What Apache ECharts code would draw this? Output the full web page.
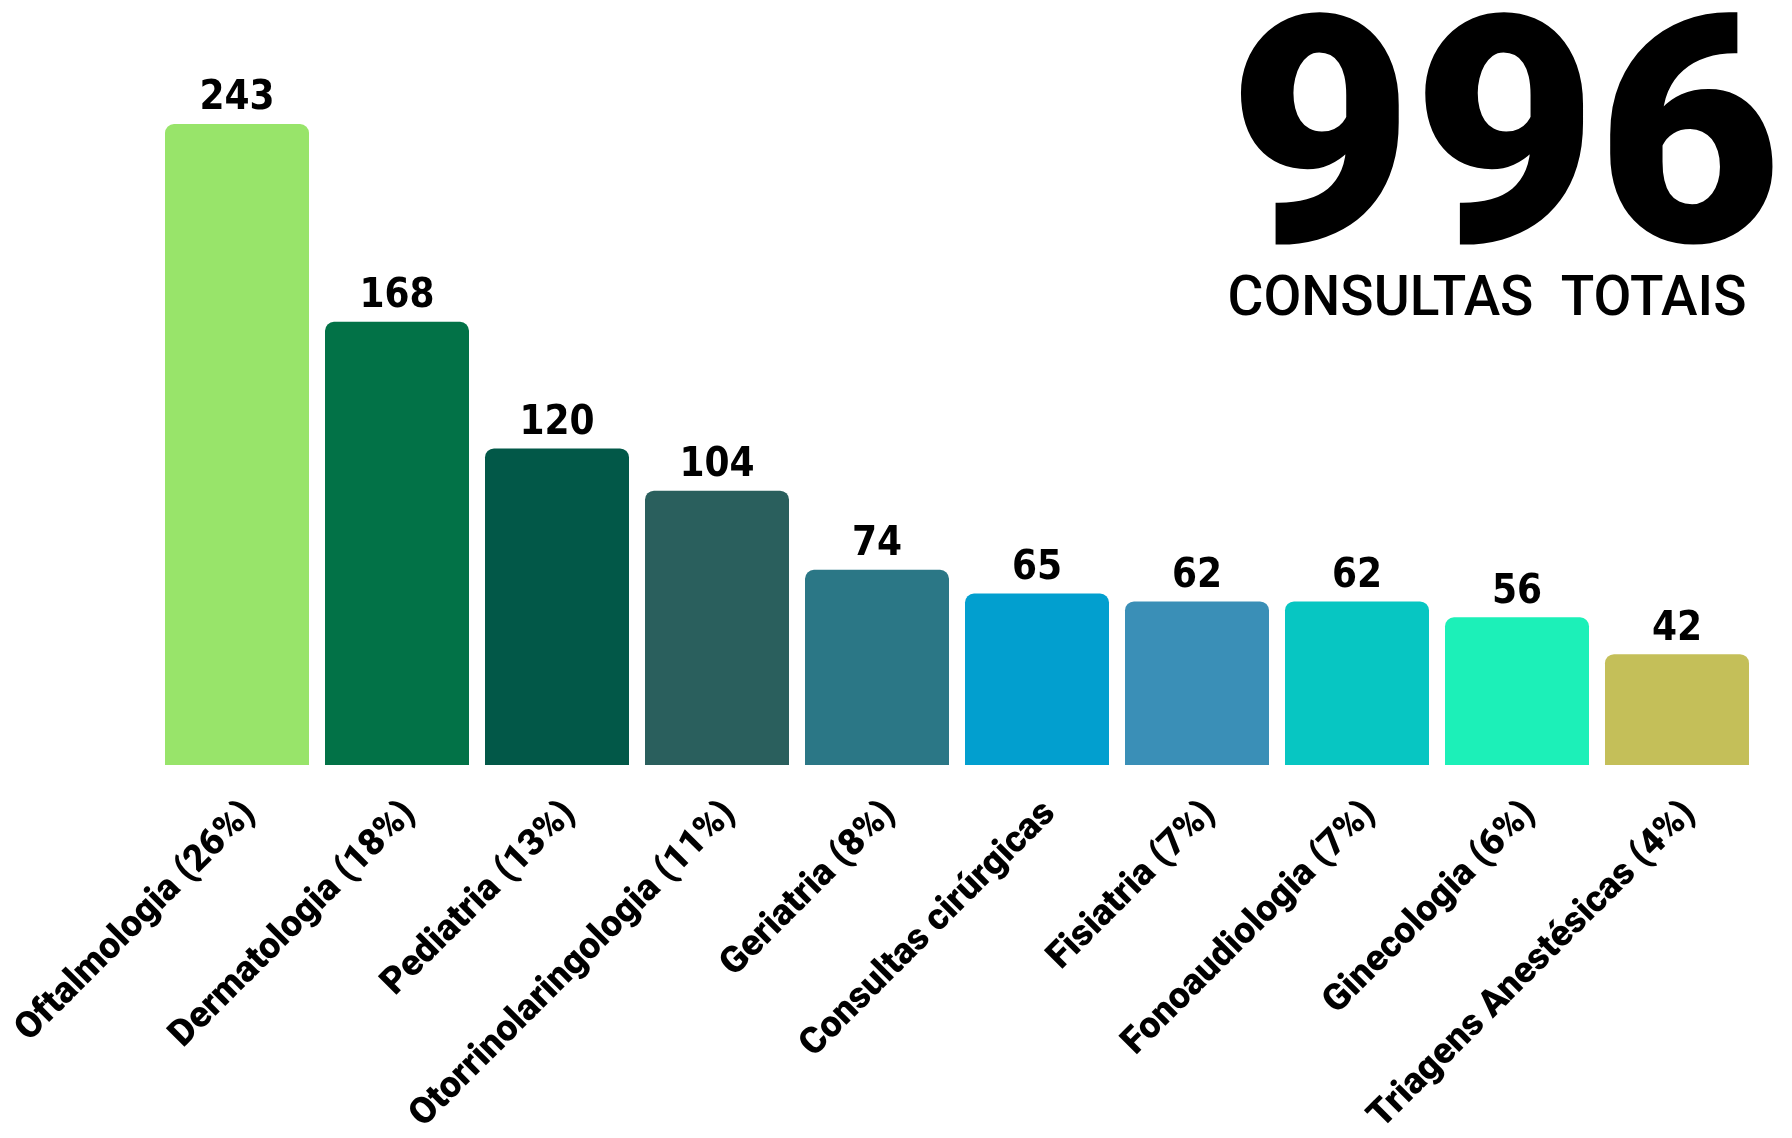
<!DOCTYPE html>
<html>
<head>
<meta charset="utf-8">
<script src="https://cdn.jsdelivr.net/npm/echarts@6/dist/echarts.min.js"></script>
<style>
html,body{margin:0;padding:0;background:#fff;}
#chart{width:1792px;height:1138px;}
</style>
</head>
<body>
<div id="chart"></div>
<script>
const categories = [
  'Oftalmologia (26%)', 'Dermatologia (18%)', 'Pediatria (13%)',
  'Otorrinolaringologia (11%)', 'Geriatria (8%)', 'Consultas cirúrgicas',
  'Fisiatria (7%)', 'Fonoaudiologia (7%)', 'Ginecologia (6%)',
  'Triagens Anestésicas (4%)'
];
const values = [243, 168, 120, 104, 74, 65, 62, 62, 56, 42];
const barColors = ['#98E46A', '#027247', '#025848', '#2A5F5D', '#2B7786',
                   '#029FCF', '#3A8FB7', '#07C6C2', '#1CF0B8', '#C4BF59'];
const totalValue = '996';
const totalLabel = 'CONSULTAS  TOTAIS';

const chart = echarts.init(document.getElementById('chart'));
chart.setOption({
  backgroundColor: '#ffffff',
  animation: false,
  grid: { left: 157, right: 35, top: 124, bottom: 369, containLabel: false },
  xAxis: {
    type: 'category',
    data: categories,
    axisLine: { show: false },
    axisTick: { show: false },
    axisLabel: {
      rotate: 45,
      interval: 0,
      margin: 30,
      align: 'right',
      verticalAlign: 'top',
      color: '#000',
      fontFamily: 'Roboto',
      fontWeight: 900,
      fontSize: 37
    }
  },
  yAxis: {
    type: 'value',
    min: 0,
    max: 243,
    show: false,
    splitLine: { show: false }
  },
  series: [{
    type: 'bar',
    barCategoryGap: '10%',
    data: values.map((v, i) => ({ value: v, itemStyle: { color: barColors[i] } })),
    itemStyle: { borderRadius: [9, 9, 0, 0] },
    label: {
      show: true,
      position: 'top',
      distance: 5,
      color: '#000',
      fontFamily: '"DejaVu Sans Condensed", sans-serif',
      fontWeight: 'bold',
      fontSize: 40
    }
  }],
  graphic: [
    {
      type: 'text',
      style: {
        text: totalValue,
        x: 1505,
        y: 162,
        textAlign: 'center',
        textVerticalAlign: 'middle',
        fontFamily: 'Roboto',
        fontWeight: 900,
        fontSize: 318,
        fill: '#000'
      }
    },
    {
      type: 'text',
      style: {
        text: totalLabel,
        x: 1487,
        y: 301,
        textAlign: 'center',
        textVerticalAlign: 'middle',
        fontFamily: 'Roboto',
        fontWeight: 500,
        fontSize: 55,
        fill: '#000'
      }
    }
  ]
});
</script>
</body>
</html>
